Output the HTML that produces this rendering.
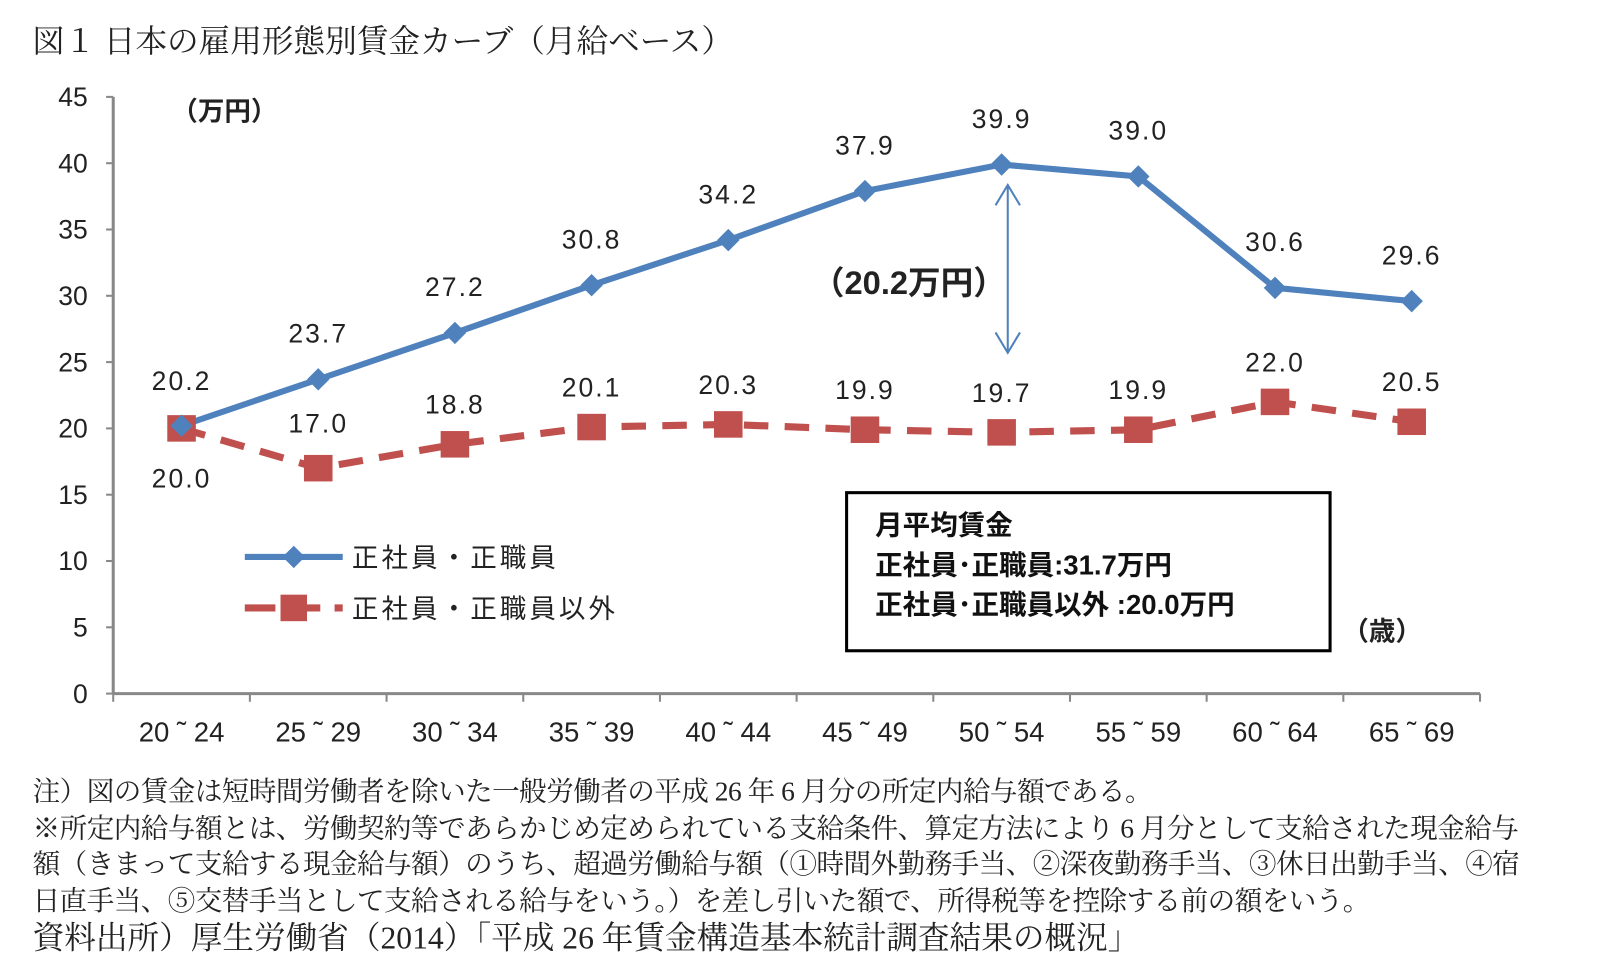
<!DOCTYPE html>
<html><head><meta charset="utf-8"><style>
body{margin:0;width:1597px;height:978px;background:#fff;overflow:hidden;position:relative;font-family:"Liberation Serif","Noto Serif CJK JP",serif}
#w{position:absolute;left:0;top:0;width:1566px;height:960px;transform:scale(1.02);transform-origin:0 0}
.t{position:absolute;white-space:nowrap;color:#222}
.note{font-size:27px;left:32px;letter-spacing:-0.5px}
</style></head><body>
<div id="w">
<div class="t" style="left:32px;top:15px;font-size:31px">図１ 日本の雇用形態別賃金カーブ（月給ベース）</div>
<svg id="c" width="1566" height="760" style="position:absolute;left:-2px;top:0"></svg>
<div class="t note" style="top:754px">注）図の賃金は短時間労働者を除いた一般労働者の平成 26 年 6 月分の所定内給与額である。</div>
<div class="t note" style="top:789.5px">※所定内給与額とは、労働契約等であらかじめ定められている支給条件、算定方法により 6 月分として支給された現金給与</div>
<div class="t note" style="top:825px">額（きまって支給する現金給与額）のうち、超過労働給与額（①時間外勤務手当、②深夜勤務手当、③休日出勤手当、④宿</div>
<div class="t note" style="top:860.5px">日直手当、⑤交替手当として支給される給与をいう。）を差し引いた額で、所得税等を控除する前の額をいう。</div>
<div class="t" style="left:32px;top:894px;font-size:31px">資料出所）厚生労働省（2014）「平成 26 年賃金構造基本統計調査結果の概況」</div>
</div>
<script>
const categories=["20～24","25～29","30～34","35～39","40～44","45～49","50～54","55～59","60～64","65～69"];
const regular=[20.2,23.7,27.2,30.8,34.2,37.9,39.9,39.0,30.6,29.6];
const nonRegular=[20.0,17.0,18.8,20.1,20.3,19.9,19.7,19.9,22.0,20.5];
const yTicks=[0,5,10,15,20,25,30,35,40,45];
const svg=document.getElementById('c');const NS='http://www.w3.org/2000/svg';
const X0=113,X1=1453,Y0=680,Y1=95,YMAX=45;
const bw=(X1-X0)/categories.length;
const xs=i=>X0+bw*(i+0.5);const ys=v=>Y0-(Y0-Y1)*v/YMAX;
function mk(t,a,p){const e=document.createElementNS(NS,t);for(const k in a)e.setAttribute(k,a[k]);(p||svg).appendChild(e);return e;}
const F='"Liberation Sans","Noto Sans CJK JP",sans-serif';
let ax=mk('line',{x1:X0,y1:Y1,x2:X0,y2:Y0,stroke:'#888','stroke-width':3});


let bx=mk('line',{x1:X0,y1:Y0,x2:X1,y2:Y0,stroke:'#888','stroke-width':3});


yTicks.forEach(v=>{mk('line',{x1:X0-7,x2:X0,y1:ys(v),y2:ys(v),stroke:'#888','stroke-width':2});
const t=mk('text',{x:88,y:ys(v)+9,'text-anchor':'end','font-size':26,'font-family':F,fill:'#222'});t.textContent=v;

});
for(let i=0;i<=categories.length;i++)mk('line',{x1:X0+bw*i,x2:X0+bw*i,y1:Y0,y2:Y0+8,stroke:'#888','stroke-width':2});
categories.forEach((c,i)=>{const t=mk('text',{x:xs(i),y:727,'text-anchor':'middle','font-size':27,'font-family':F,fill:'#222'});t.textContent=c.replace('～',' ˜ ');

});
let p2=mk('polyline',{points:nonRegular.map((v,i)=>xs(i)+','+ys(v)).join(' '),fill:'none',stroke:'#c0504d','stroke-width':7,'stroke-dasharray':'24 16'});


let p1=mk('polyline',{points:regular.map((v,i)=>xs(i)+','+ys(v)).join(' '),fill:'none',stroke:'#4f81bd','stroke-width':6});


nonRegular.forEach((v,i)=>{const r=mk('rect',{x:xs(i)-14,y:ys(v)-13,width:28,height:26,fill:'#c0504d'});


const t=mk('text',{x:xs(i),y:ys(v)+(i===0?58:(i===1?-35:-30)),'text-anchor':'middle','font-size':26,'font-family':F,fill:'#222','letter-spacing':2});t.textContent=v.toFixed(1);

});
regular.forEach((v,i)=>{const d=mk('polygon',{points:`${xs(i)},${ys(v)-11} ${xs(i)+11},${ys(v)} ${xs(i)},${ys(v)+11} ${xs(i)-11},${ys(v)}`,fill:'#4f81bd'});


const t=mk('text',{x:xs(i),y:ys(v)-(i===0?35:36),'text-anchor':'middle','font-size':26,'font-family':F,fill:'#222','letter-spacing':2});t.textContent=v.toFixed(1);

});
const ax6=xs(6);
let g=mk('g',{stroke:'#4f81bd','stroke-width':2,fill:'none'});


mk('line',{x1:ax6+6,y1:ys(regular[6])+20,x2:ax6+6,y2:ys(nonRegular[6])-78},g);
mk('polyline',{points:`${ax6-6},${ys(regular[6])+40} ${ax6+6},${ys(regular[6])+20} ${ax6+18},${ys(regular[6])+40}`},g);
mk('polyline',{points:`${ax6-6},${ys(nonRegular[6])-98} ${ax6+6},${ys(nonRegular[6])-78} ${ax6+18},${ys(nonRegular[6])-98}`},g);
let gt=mk('text',{x:ax6-186,y:288,'font-size':32,'font-weight':'bold','font-family':F,fill:'#222'});gt.textContent='（20.2万円）';


let u=mk('text',{x:170,y:118,'font-size':26,'font-weight':'bold','font-family':F,fill:'#222'});u.textContent='（万円）';


let u2=mk('text',{x:1318,y:628,'font-size':26,'font-weight':'bold','font-family':F,fill:'#222'});u2.textContent='（歳）';


let l1=mk('g',{});

mk('line',{x1:242,x2:338,y1:546,y2:546,stroke:'#4f81bd','stroke-width':6},l1);
mk('polygon',{points:'290,535 301,546 290,557 279,546',fill:'#4f81bd'},l1);
let lt=mk('text',{x:347,y:556,'font-size':26,'font-family':F,fill:'#222','letter-spacing':3},l1);lt.textContent='正社員・正職員';
let l2=mk('g',{});

mk('line',{x1:242,x2:338,y1:596,y2:596,stroke:'#c0504d','stroke-width':7,'stroke-dasharray':'30 14'},l2);
mk('rect',{x:277,y:583,width:26,height:26,fill:'#c0504d'},l2);
let lt2=mk('text',{x:347,y:606,'font-size':26,'font-family':F,fill:'#222','letter-spacing':3},l2);lt2.textContent='正社員・正職員以外';
let bg=mk('g',{});

mk('rect',{x:832,y:483,width:474,height:155,fill:'#fff',stroke:'#000','stroke-width':3},bg);
[['月平均賃金',524],['正社員･正職員:31.7万円',563],['正社員･正職員以外 :20.0万円',602]].forEach(([s,y])=>{const t=mk('text',{x:860,y:y,'font-size':27,'font-weight':'bold','font-family':F,fill:'#111'},bg);t.textContent=s;});
</script>
</body></html>
